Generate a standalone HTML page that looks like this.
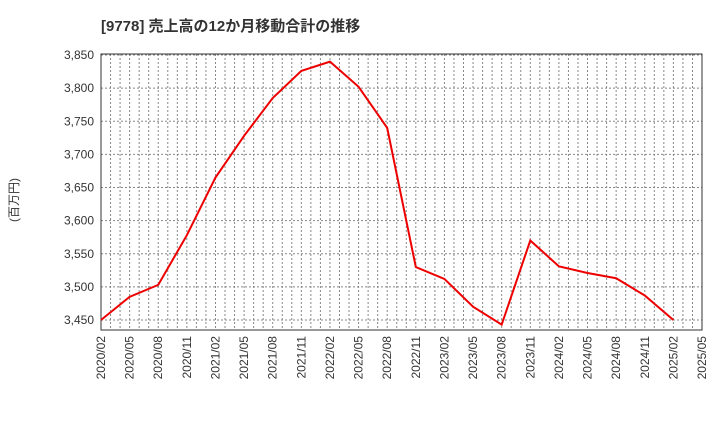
<!DOCTYPE html><html><head><meta charset="utf-8"><style>body{margin:0;background:#fff}svg text{font-family:"Liberation Sans","Noto Sans CJK JP",sans-serif}</style></head><body>
<svg id="c" width="720" height="440"></svg>
<script>
const categories=["2020/02","2020/05","2020/08","2020/11","2021/02","2021/05","2021/08","2021/11","2022/02","2022/05","2022/08","2022/11","2023/02","2023/05","2023/08","2023/11","2024/02","2024/05","2024/08","2024/11","2025/02"];
const tickLabels=["2020/02","2020/05","2020/08","2020/11","2021/02","2021/05","2021/08","2021/11","2022/02","2022/05","2022/08","2022/11","2023/02","2023/05","2023/08","2023/11","2024/02","2024/05","2024/08","2024/11","2025/02","2025/05"];
const values=[3450,3485,3503,3578,3665,3728,3785,3826,3840,3802,3740,3530,3512,3470,3443,3570,3531,3521,3513,3487,3450];
const yTicks=[3450,3500,3550,3600,3650,3700,3750,3800,3850];
const NS="http://www.w3.org/2000/svg",svg=document.getElementById('c');
const L=101,R=702,T=54,B=330;
const x=i=>L+(R-L)*i/21;
const y=v=>320-(v-3450)*265/400;
function el(t,a,p){const e=document.createElementNS(NS,t);for(const k in a)e.setAttribute(k,a[k]);(p||svg).appendChild(e);return e;}
const t=el('text',{x:101,y:31,'font-size':15,'font-weight':'bold',fill:'#333'});t.textContent="[9778]  売上高の12か月移動合計の推移";

const yt=el('text',{x:18,y:200,'font-size':12,fill:'#333',transform:'rotate(-90 18 200)','text-anchor':'middle'});yt.textContent="(百万円)";

for(let m=1;m<63;m++){const xx=L+(R-L)*m/63;const g=el('line',{x1:xx,x2:xx,y1:T,y2:B,stroke:'#888','stroke-dasharray':'2,2','stroke-width':1});
}
yTicks.forEach(v=>{const yy=y(v);const g=el('line',{x1:L,x2:R,y1:yy,y2:yy,stroke:'#888','stroke-dasharray':'2,2'});

const tx=el('text',{x:94,y:yy+4,'font-size':12,'text-anchor':'end',fill:'#333'});tx.textContent=v.toLocaleString('en-US');
});
tickLabels.forEach((s,i)=>{const xx=x(i);const tx=el('text',{x:xx+4,y:336,'font-size':12,'text-anchor':'end',fill:'#333',transform:`rotate(-90 ${xx+4} 336)`});tx.textContent=s;
});
const fr=el('rect',{x:L,y:T,width:R-L,height:B-T,fill:'none',stroke:'#333'});

const ln=el('polyline',{points:values.map((v,i)=>x(i)+','+y(v)).join(' '),fill:'none',stroke:'#e00','stroke-width':2});

</script></body></html>
